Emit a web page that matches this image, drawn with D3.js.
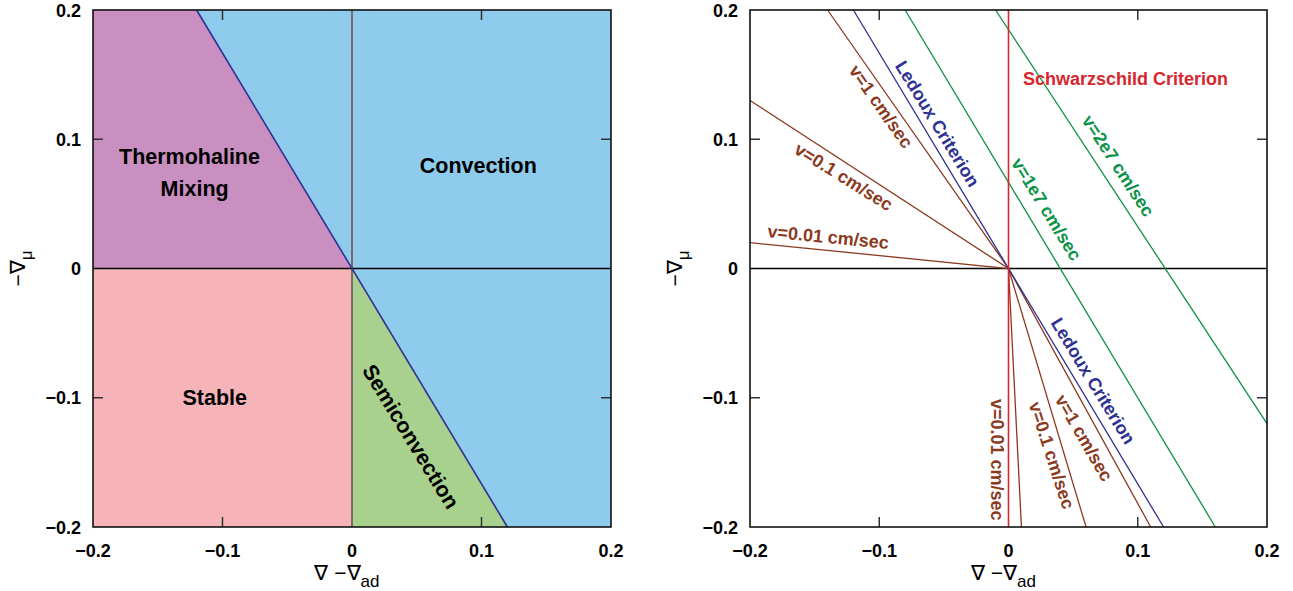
<!DOCTYPE html>
<html><head><meta charset="utf-8">
<script src="https://cdn.jsdelivr.net/npm/d3@7"></script>
<style>body{margin:0;background:#fff}svg{display:block}text{font-family:"Liberation Sans",Arial,sans-serif}</style>
</head><body>
<svg id="c" width="1293" height="591"></svg>
<script>
// ---- data ----
const xTicks = [-0.2, -0.1, 0, 0.1, 0.2];
const yTicks = [-0.2, -0.1, 0, 0.1, 0.2];
const ledoux = [[-0.12, 0.2], [0.12, -0.2]];
const regionThermohaline = [[-0.2, 0.2], [-0.12, 0.2], [0, 0], [-0.2, 0]];
const regionStable = [[-0.2, 0], [0, 0], [0, -0.2], [-0.2, -0.2]];
const regionSemi = [[0, 0], [0.12, -0.2], [0, -0.2]];
const regionConvection = [[-0.12, 0.2], [0.2, 0.2], [0.2, -0.2], [0.12, -0.2], [0, 0]];
const regionLabels = [
  {t: "Thermohaline", x: -0.1255, y: 0.087, a: 0},
  {t: "Mixing", x: -0.1215, y: 0.062, a: 0},
  {t: "Convection", x: 0.0975, y: 0.080, a: 0},
  {t: "Stable", x: -0.106, y: -0.1, a: 0},
  {t: "Semiconvection", x: 0.0455, y: -0.130, a: 58.5}
];
const brownLines = [
  {name: "v=1", pts: [[-0.14, 0.2], [0, 0], [0.11, -0.2]]},
  {name: "v=0.1", pts: [[-0.2, 0.13], [0, 0], [0.06, -0.2]]},
  {name: "v=0.01", pts: [[-0.2, 0.02], [0, 0], [0.01, -0.2]]}
];
const greenLines = [
  {name: "v=1e7", pts: [[-0.08, 0.2], [0.16, -0.2]]},
  {name: "v=2e7", pts: [[-0.01, 0.2], [0.2, -0.12]]}
];
const schwarzschild = [[0, 0.2], [0, -0.2]];
const rightLabels = [
  {t: "v=1 cm/sec", x: -0.0985, y: 0.1253, a: 55, c: "brown"},
  {t: "Ledoux Criterion", x: -0.055, y: 0.112, a: 58.5, c: "navy"},
  {t: "v=0.1 cm/sec", x: -0.1275, y: 0.071, a: 32, c: "brown"},
  {t: "v=0.01 cm/sec", x: -0.1395, y: 0.0245, a: 5.5, c: "brown"},
  {t: "v=1e7 cm/sec", x: 0.0295, y: 0.046, a: 58.5, c: "green"},
  {t: "v=2e7 cm/sec", x: 0.085, y: 0.0795, a: 57, c: "green"},
  {t: "Schwarzschild Criterion", x: 0.0905, y: 0.147, a: 0, c: "red"},
  {t: "Ledoux Criterion", x: 0.0655, y: -0.087, a: 58.5, c: "navy"},
  {t: "v=1 cm/sec", x: 0.0585, y: -0.131, a: 60, c: "brown"},
  {t: "v=0.1 cm/sec", x: 0.0335, y: -0.1445, a: 72, c: "brown"},
  {t: "v=0.01 cm/sec", x: -0.009, y: -0.148, a: 90, c: "brown"}
];
const colors = {brown: "#8B3A1E", navy: "#2E3192", green: "#0A9248", red: "#D7262E"};

const svg = d3.select("#c");
function fmt(v){ return v === 0 ? "0" : (v < 0 ? "\u2212" : "") + Math.abs(v).toFixed(1); }

function panel(x0, x1, y0, y1) {
  const x = d3.scaleLinear().domain([-0.2, 0.2]).range([x0, x1]);
  const y = d3.scaleLinear().domain([-0.2, 0.2]).range([y1, y0]);
  return {x, y};
}
function axes(g, s) {
  const [x0, x1] = s.x.range(), [y1, y0] = s.y.range();
  const tk = [-0.1, 0.1];
  tk.forEach(v => {
    g.append("line").attr("x1", s.x(v)).attr("x2", s.x(v)).attr("y1", y1).attr("y2", y1 - 10).attr("stroke", "#333").attr("stroke-width", 1.5);
    g.append("line").attr("x1", s.x(v)).attr("x2", s.x(v)).attr("y1", y0).attr("y2", y0 + 10).attr("stroke", "#333").attr("stroke-width", 1.5);
    g.append("line").attr("y1", s.y(v)).attr("y2", s.y(v)).attr("x1", x0).attr("x2", x0 + 10).attr("stroke", "#333").attr("stroke-width", 1.5);
    g.append("line").attr("y1", s.y(v)).attr("y2", s.y(v)).attr("x1", x1).attr("x2", x1 - 10).attr("stroke", "#333").attr("stroke-width", 1.5);
  });
  g.append("rect").attr("x", x0).attr("y", y0).attr("width", x1 - x0).attr("height", y1 - y0)
    .attr("fill", "none").attr("stroke", "#111").attr("stroke-width", 1.6);
  xTicks.forEach(v => g.append("text").attr("x", s.x(v)).attr("y", y1 + 30).attr("text-anchor", "middle")
    .attr("font-size", 18).attr("font-weight", "bold").text(fmt(v)));
  yTicks.forEach(v => g.append("text").attr("x", x0 - 12).attr("y", s.y(v) + 6.5).attr("text-anchor", "end")
    .attr("font-size", 18).attr("font-weight", "bold").text(fmt(v)));
  const xt = g.append("text").attr("x", (x0 + x1) / 2 - 5).attr("y", y1 + 53).attr("text-anchor", "middle").attr("font-size", 21);
  xt.append("tspan").text("\u2207 \u2212\u2207");
  xt.append("tspan").attr("dy", 7).attr("font-size", 17).text("ad");
  const yt = g.append("text").attr("transform", `translate(${x0 - 68},${(y0 + y1) / 2}) rotate(-90)`).attr("text-anchor", "middle").attr("font-size", 21);
  yt.append("tspan").text("\u2212\u2207");
  yt.append("tspan").attr("dy", 7).attr("font-size", 17).text("\u03bc");
}

// ---- left panel ----
const L = panel(93, 611, 10, 527);
const gl = svg.append("g");
const lineL = d3.line().x(d => L.x(d[0])).y(d => L.y(d[1]));
[[regionConvection, "#8ECBED"], [regionThermohaline, "#C98FC0"], [regionStable, "#F7B4B8"], [regionSemi, "#A8D18D"]]
  .forEach(([r, c]) => gl.append("path").attr("d", lineL(r) + "Z").attr("fill", c));
gl.append("line").attr("x1", L.x(0)).attr("x2", L.x(0)).attr("y1", L.y(0.2)).attr("y2", L.y(-0.2)).attr("stroke", "#7a6a6e").attr("stroke-width", 2);
gl.append("line").attr("x1", L.x(-0.2)).attr("x2", L.x(0.2)).attr("y1", L.y(0)).attr("y2", L.y(0)).attr("stroke", "#000").attr("stroke-width", 1.5);
gl.append("path").attr("d", lineL(ledoux)).attr("stroke", "#2E3192").attr("stroke-width", 1.6).attr("fill", "none");
regionLabels.forEach(d => gl.append("text").attr("transform", `translate(${L.x(d.x)},${L.y(d.y)}) rotate(${d.a})`)
  .attr("text-anchor", "middle").attr("dy", "0.35em").attr("font-size", 21.5).attr("font-weight", "bold").text(d.t));
axes(gl, L);

// ---- right panel ----
const R = panel(750, 1267, 10, 527);
const gr = svg.append("g");
const lineR = d3.line().x(d => R.x(d[0])).y(d => R.y(d[1]));
gr.append("line").attr("x1", R.x(-0.2)).attr("x2", R.x(0.2)).attr("y1", R.y(0)).attr("y2", R.y(0)).attr("stroke", "#000").attr("stroke-width", 1.3);
brownLines.forEach(l => gr.append("path").attr("d", lineR(l.pts)).attr("stroke", colors.brown).attr("stroke-width", 1.3).attr("fill", "none"));
greenLines.forEach(l => gr.append("path").attr("d", lineR(l.pts)).attr("stroke", colors.green).attr("stroke-width", 1.3).attr("fill", "none"));
gr.append("path").attr("d", lineR(ledoux)).attr("stroke", colors.navy).attr("stroke-width", 1.3).attr("fill", "none");
gr.append("path").attr("d", lineR(schwarzschild)).attr("stroke", colors.red).attr("stroke-width", 1.6).attr("fill", "none");
rightLabels.forEach(d => gr.append("text").attr("transform", `translate(${R.x(d.x)},${R.y(d.y)}) rotate(${d.a})`)
  .attr("text-anchor", "middle").attr("dy", "0.35em").attr("font-size", 18).attr("font-weight", "bold")
  .attr("fill", colors[d.c]).text(d.t));
axes(gr, R);
</script>
</body></html>
